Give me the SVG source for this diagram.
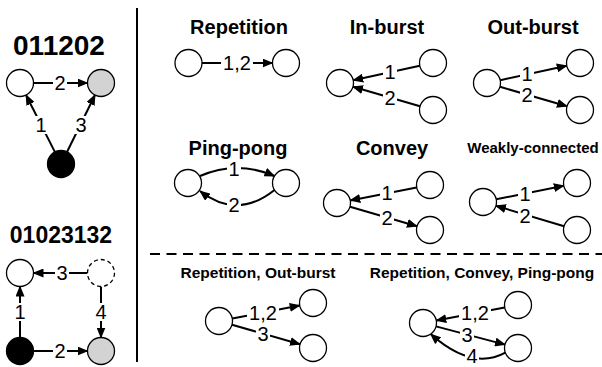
<svg xmlns="http://www.w3.org/2000/svg" width="602" height="367" viewBox="0 0 602 367">
<defs>
<marker id="ah" markerUnits="userSpaceOnUse" markerWidth="11" markerHeight="9" refX="10" refY="4.5" orient="auto">
<path d="M0,0 L11,4.5 L0,9 z" fill="#000"/>
</marker>
<style>
.n{fill:#fff;stroke:#000;stroke-width:1.3}
.g{fill:#d3d3d3;stroke:#000;stroke-width:1.3}
.b{fill:#000;stroke:#000;stroke-width:1.3}
.d{fill:#fff;stroke:#000;stroke-width:1.3;stroke-dasharray:4 3}
.e{fill:none;stroke:#000;stroke-width:2;marker-end:url(#ah)}
.bg{fill:#fff;stroke:none}
.l{font-family:"Liberation Sans",Arial,sans-serif;font-size:20px;text-anchor:middle;fill:#000}
.t{font-family:"Liberation Sans",Arial,sans-serif;font-weight:bold;text-anchor:middle;fill:#000}
</style>
</defs>
<rect width="602" height="367" fill="#fff"/>
<g id="separators">
<line x1="137" y1="8" x2="137" y2="362" stroke="#000" stroke-width="2"/>
<line x1="150" y1="254" x2="602" y2="254" stroke="#000" stroke-width="2" stroke-dasharray="10 6.5"/>
</g>
<g id="connectors">
<line class="e" x1="33.5" y1="83" x2="87.5" y2="83"/>
<line class="e" x1="55.1" y1="152.4" x2="26" y2="95"/>
<line class="e" x1="66.9" y1="152.3" x2="95" y2="95"/>
<line class="e" x1="87.5" y1="273" x2="33.5" y2="273"/>
<line class="e" x1="20" y1="337.5" x2="20" y2="286.5"/>
<line class="e" x1="33.5" y1="351" x2="87.5" y2="351"/>
<line class="e" x1="101" y1="286.5" x2="101" y2="337.5"/>
<line class="e" x1="202" y1="63" x2="272.5" y2="63"/>
<line class="e" x1="419.8" y1="65.8" x2="353.2" y2="80.2"/>
<line class="e" x1="420" y1="106.2" x2="353" y2="86.8"/>
<line class="e" x1="500.2" y1="80.2" x2="566.8" y2="65.8"/>
<line class="e" x1="500" y1="86.8" x2="567" y2="106.2"/>
<path class="e" d="M200,176 Q237,160 274.5,176"/>
<path class="e" d="M274.5,190 Q237,220 200,191"/>
<line class="e" x1="416.7" y1="187.6" x2="350.3" y2="200.4"/>
<line class="e" x1="350" y1="206.8" x2="417" y2="226.2"/>
<line class="e" x1="496.2" y1="199.3" x2="563.8" y2="185.7"/>
<line class="e" x1="564.1" y1="226.2" x2="495.9" y2="205.8"/>
<line class="e" x1="232.3" y1="318.5" x2="299.7" y2="305.5"/>
<line class="e" x1="232" y1="324.7" x2="300" y2="344.3"/>
<line class="e" x1="504.7" y1="307.5" x2="436.3" y2="320.5"/>
<line class="e" x1="436" y1="326.4" x2="505" y2="344.6"/>
<path class="e" d="M505.3,352.6 Q472,371 430.7,334.1"/>
<!-- label backgrounds -->
<rect class="bg" x="53" y="74" width="14" height="18"/>
<rect class="bg" x="34" y="116" width="14" height="18"/>
<rect class="bg" x="74" y="116" width="14" height="18"/>
<rect class="bg" x="55" y="264" width="14" height="18"/>
<rect class="bg" x="13" y="303" width="14" height="18"/>
<rect class="bg" x="53" y="342" width="14" height="18"/>
<rect class="bg" x="94" y="303" width="14" height="18"/>
<rect class="bg" x="221" y="54" width="32" height="20"/>
<rect class="bg" x="383" y="63" width="14" height="18"/>
<rect class="bg" x="383" y="88.5" width="14" height="18"/>
<rect class="bg" x="520" y="65" width="14" height="18"/>
<rect class="bg" x="520" y="86" width="14" height="18"/>
<rect class="bg" x="227" y="160" width="14" height="18"/>
<rect class="bg" x="227" y="196" width="14" height="18"/>
<rect class="bg" x="380" y="184" width="14" height="18"/>
<rect class="bg" x="380" y="208.5" width="14" height="18"/>
<rect class="bg" x="518" y="184.5" width="14" height="18"/>
<rect class="bg" x="518" y="207" width="14" height="18"/>
<rect class="bg" x="247" y="303.5" width="32" height="20"/>
<rect class="bg" x="256" y="324.5" width="14" height="18"/>
<rect class="bg" x="459" y="303.5" width="32" height="20"/>
<rect class="bg" x="460" y="325.5" width="14" height="18"/>
<rect class="bg" x="465" y="347" width="14" height="18"/>
<!-- labels -->
<text class="l" x="60" y="90">2</text>
<text class="l" x="41" y="132">1</text>
<text class="l" x="81" y="132">3</text>
<text class="l" x="62" y="280">3</text>
<text class="l" x="20" y="319">1</text>
<text class="l" x="60" y="358">2</text>
<text class="l" x="101" y="319">4</text>
<text class="l" x="237" y="70">1,2</text>
<text class="l" x="390" y="79">1</text>
<text class="l" x="390" y="104.5">2</text>
<text class="l" x="527" y="81">1</text>
<text class="l" x="527" y="102">2</text>
<text class="l" x="234" y="176">1</text>
<text class="l" x="234" y="212">2</text>
<text class="l" x="387" y="200">1</text>
<text class="l" x="387" y="224.5">2</text>
<text class="l" x="525" y="200.5">1</text>
<text class="l" x="525" y="223">2</text>
<text class="l" x="263" y="320">1,2</text>
<text class="l" x="263" y="340.5">3</text>
<text class="l" x="475" y="320">1,2</text>
<text class="l" x="467" y="341.5">3</text>
<text class="l" x="472" y="363">4</text>
</g>
<g id="titles">
<text class="t" x="59" y="55" font-size="28">011202</text>
<text class="t" x="61" y="243" font-size="23">01023132</text>
<text class="t" x="239" y="34" font-size="20">Repetition</text>
<text class="t" x="387" y="34" font-size="20">In-burst</text>
<text class="t" x="533" y="34" font-size="20">Out-burst</text>
<text class="t" x="238" y="155" font-size="20">Ping-pong</text>
<text class="t" x="392" y="155" font-size="20">Convey</text>
<text class="t" x="533" y="153" font-size="15">Weakly-connected</text>
<text class="t" x="258" y="278" font-size="15.5">Repetition, Out-burst</text>
<text class="t" x="482" y="278" font-size="15.5">Repetition, Convey, Ping-pong</text>
</g>
<g id="node-a1"><circle class="n" cx="20" cy="83" r="13.5"/></g>
<g id="node-a2"><circle class="g" cx="101" cy="83" r="13.5"/></g>
<g id="node-a0"><circle class="b" cx="61" cy="164" r="13.5"/></g>
<g id="node-b1"><circle class="n" cx="20" cy="273" r="13.5"/></g>
<g id="node-b3"><circle class="d" cx="101" cy="273" r="13.5"/></g>
<g id="node-b0"><circle class="b" cx="20" cy="351" r="13.5"/></g>
<g id="node-b2"><circle class="g" cx="101" cy="351" r="13.5"/></g>
<g id="node-rep-l"><circle class="n" cx="188.5" cy="63" r="13.5"/></g>
<g id="node-rep-r"><circle class="n" cx="286" cy="63" r="13.5"/></g>
<g id="node-in-l"><circle class="n" cx="340" cy="83" r="13.5"/></g>
<g id="node-in-t"><circle class="n" cx="433" cy="63" r="13.5"/></g>
<g id="node-in-b"><circle class="n" cx="433" cy="110" r="13.5"/></g>
<g id="node-out-l"><circle class="n" cx="487" cy="83" r="13.5"/></g>
<g id="node-out-t"><circle class="n" cx="580" cy="63" r="13.5"/></g>
<g id="node-out-b"><circle class="n" cx="580" cy="110" r="13.5"/></g>
<g id="node-pp-l"><circle class="n" cx="188" cy="183" r="13.5"/></g>
<g id="node-pp-r"><circle class="n" cx="286" cy="183" r="13.5"/></g>
<g id="node-cv-l"><circle class="n" cx="337" cy="203" r="13.5"/></g>
<g id="node-cv-t"><circle class="n" cx="430" cy="185" r="13.5"/></g>
<g id="node-cv-b"><circle class="n" cx="430" cy="230" r="13.5"/></g>
<g id="node-wk-l"><circle class="n" cx="483" cy="202" r="13.5"/></g>
<g id="node-wk-t"><circle class="n" cx="577" cy="183" r="13.5"/></g>
<g id="node-wk-b"><circle class="n" cx="577" cy="230" r="13.5"/></g>
<g id="node-ro-l"><circle class="n" cx="219" cy="321" r="13.5"/></g>
<g id="node-ro-t"><circle class="n" cx="313" cy="303" r="13.5"/></g>
<g id="node-ro-b"><circle class="n" cx="313" cy="348" r="13.5"/></g>
<g id="node-rcp-l"><circle class="n" cx="423" cy="323" r="13.5"/></g>
<g id="node-rcp-t"><circle class="n" cx="518" cy="305" r="13.5"/></g>
<g id="node-rcp-b"><circle class="n" cx="518" cy="348" r="13.5"/></g>
</svg>
